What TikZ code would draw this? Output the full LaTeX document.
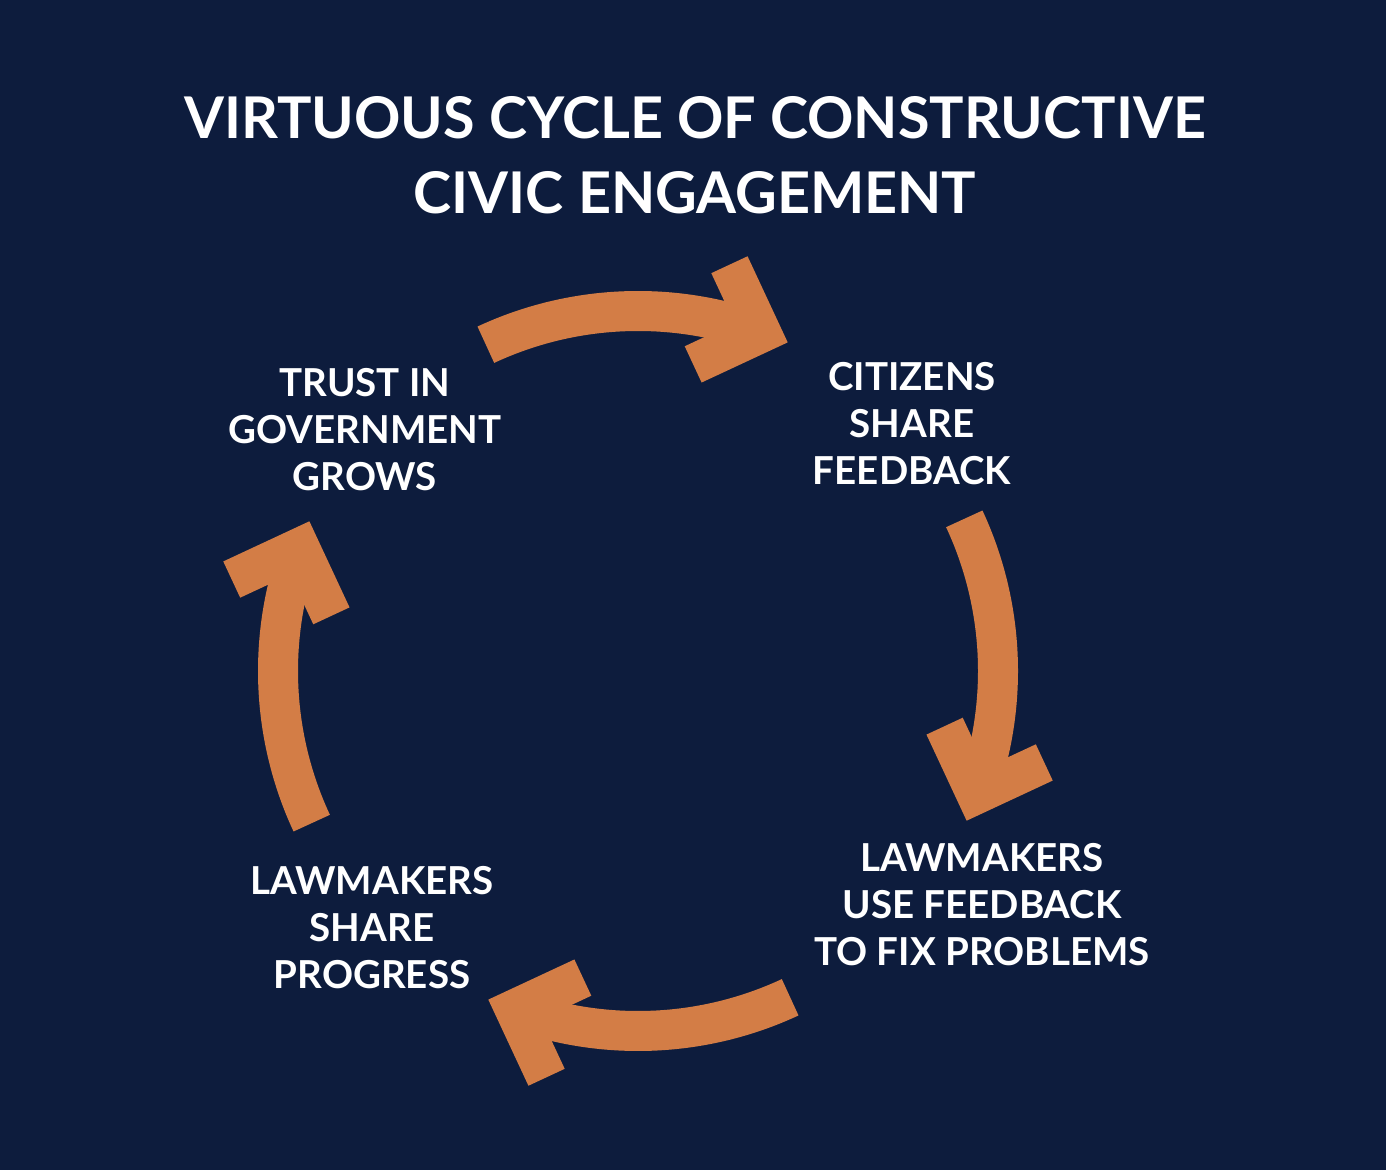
\documentclass[tikz,border=0pt]{standalone}
\usepackage{fontspec}
\setmainfont{Lato}
\usetikzlibrary{calc}
\definecolor{navy}{HTML}{0D1C3D}
\definecolor{orng}{HTML}{D37D46}
\begin{document}
\begin{tikzpicture}[x=1pt,y=1pt,
  lbl/.style={text=white,font=\fontsize{38.5}{47}\selectfont\bfseries,align=center},
  ttl/.style={text=white,font=\fontsize{57.5}{75}\selectfont\bfseries,align=center},
  arcline/.style={draw=orng,line width=40pt,line cap=butt},
  head/.style={draw=orng,line width=40pt,line join=miter,line cap=butt}]
\fill[navy] (0,0) rectangle (1386,1170);
\useasboundingbox (0,0) rectangle (1386,1170);
\node[ttl] (title) at (695,1015) {VIRTUOUS CYCLE OF CONSTRUCTIVE\\CIVIC ENGAGEMENT};
\node[lbl] (trust) at (365,740) {TRUST IN\\GOVERNMENT\\GROWS};
\node[lbl] (cit) at (912,746) {CITIZENS\\SHARE\\FEEDBACK};
\node[lbl] (use) at (982,265) {LAWMAKERS\\USE FEEDBACK\\TO FIX PROBLEMS};
\node[lbl] (prog) at (372,242) {LAWMAKERS\\SHARE\\PROGRESS};
\foreach \r/\n in {0/a,90/b,180/c,270/d}{
\begin{scope}[shift={(638,499)},rotate=\r]
  \coordinate (s\n) at (25:360);
  \coordinate (p\n) at (-20:360);
  \draw[arcline] (s\n) arc[start angle=25,end angle=-20,radius=360];
  \draw[head] ($(p\n)+(115:75)$) -- (p\n) -- ($(p\n)+(25:75)$);
\end{scope}}
\end{tikzpicture}
\end{document}
